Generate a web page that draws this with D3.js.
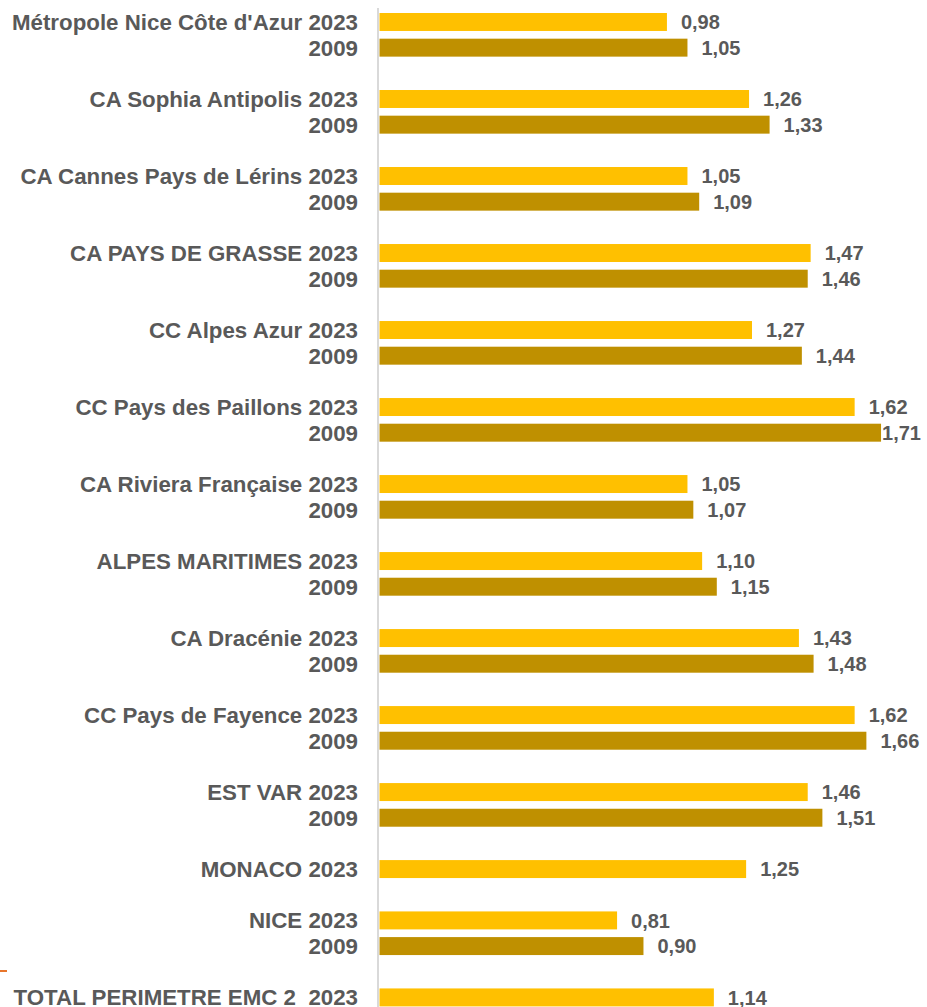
<!DOCTYPE html>
<html>
<head>
<meta charset="utf-8">
<script src="https://cdn.jsdelivr.net/npm/d3@7"></script>
<style>
  body { margin: 0; background: #fff; }
  svg { display: block; font-family: "Liberation Sans", Arial, sans-serif; font-weight: bold; }
</style>
</head>
<body>
<div id="chart"></div>
<script>
const categories = [
  "Métropole Nice Côte d'Azur",
  'CA Sophia Antipolis',
  'CA Cannes Pays de Lérins',
  'CA PAYS DE GRASSE',
  'CC Alpes Azur',
  'CC Pays des Paillons',
  'CA Riviera Française',
  'ALPES MARITIMES',
  'CA Dracénie',
  'CC Pays de Fayence',
  'EST VAR',
  'MONACO',
  'NICE',
  'TOTAL PERIMETRE EMC 2 '];

const values2023 = [0.98, 1.26, 1.05, 1.47, 1.27, 1.62, 1.05, 1.10, 1.43, 1.62, 1.46, 1.25, 0.81, 1.14];
const values2009 = [1.05, 1.33, 1.09, 1.46, 1.44, 1.71, 1.07, 1.15, 1.48, 1.66, 1.51, null, 0.90, null];

const years = ['2023', '2009'];
const colors = { '2023': '#FFC000', '2009': '#BF9000' };

// one row per bar, with an empty row between the groups (as in the excel chart)
const rows = [];
categories.forEach(function (cat, i) {
  rows.push({ label: cat + ' 2023', year: '2023', value: values2023[i] });
  if (values2009[i] != null) {
    rows.push({ label: '2009', year: '2009', value: values2009[i] });
  }
  if (i < categories.length - 1) rows.push(null);
});
rows.forEach(function (r, i) { if (r) r.idx = i; });
const bars = rows.filter(r => r);

const w = 927;
const h = 1007;
const x0 = 379.5;
const plotRight = 921;

const svg = d3.select('#chart').
append('svg').
attr('width', w).
attr('height', h);

const xScale = d3.scaleLinear().
domain([0, 1]).
range([x0, x0 + 293.3]);

const yScale = d3.scaleBand().
domain(d3.range(rows.length)).
range([5.3, 1014.1]).
padding(0.3);

const fmt = v => d3.format('.2f')(v).replace('.', ',');

// bars
svg.append('g').
selectAll('rect').
data(bars).
enter().
append('rect').
attr('x', xScale(0)).
attr('y', d => yScale(d.idx)).
attr('width', d => xScale(d.value) - xScale(0)).
attr('height', yScale.bandwidth()).
style('fill', d => colors[d.year]);

// vertical axis line
svg.append('line').
attr('x1', 378).
attr('x2', 378).
attr('y1', 8).
attr('y2', h).
style('stroke', '#d9d9d9').
style('stroke-width', 2);

// category labels
svg.append('g').
selectAll('text').
data(bars).
enter().
append('text').
attr('x', 358).
attr('y', d => yScale(d.idx) + yScale.bandwidth() / 2).
attr('dy', '0.36em').
attr('text-anchor', 'end').
style('white-space', 'pre').
style('font-size', '22.3px').
style('fill', '#595959').
text(d => d.label);

// value labels
const vals = svg.append('g').
selectAll('text').
data(bars).
enter().
append('text').
attr('y', d => yScale(d.idx) + yScale.bandwidth() / 2).
attr('dy', '0.36em').
style('font-size', '20px').
style('fill', '#595959').
text(d => fmt(d.value));

vals.attr('x', function (d) {
  const tw = this.getComputedTextLength();
  return Math.min(xScale(d.value) + 14, plotRight - tw);
});

// small orange mark on the left edge
svg.append('line').
attr('x1', 0).
attr('x2', 7).
attr('y1', 971).
attr('y2', 971).
style('stroke', '#E8762C').
style('stroke-width', 2);
</script>
</body>
</html>
